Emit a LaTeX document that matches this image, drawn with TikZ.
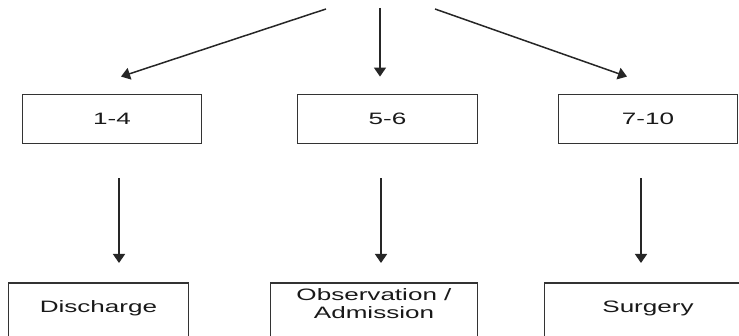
\documentclass[tikz,border=0pt]{standalone}
\usepackage{fontspec}
\setmainfont{Liberation Sans}
\usetikzlibrary{arrows.meta,positioning,calc}
\newcommand{\wide}[1]{\scalebox{1.58}[1]{#1}}
\tikzset
{
    rangebox/.style = {draw=black!80, line width=1.8pt, align=center, minimum width=179pt, minimum height=49pt, font=\fontsize{16.5}{18}\selectfont, text=black!90},
    outbox/.style = {rangebox, minimum height=62pt, anchor=north, text height=7pt, text depth=10pt},
    arr/.style = {draw=black!85, line width=1.5pt, -{Triangle[width=12pt,length=9pt]}}
}

\begin{document}
\begin{tikzpicture}[x=1pt,y=1pt]
	\clip (0,0) rectangle (739,336);
	% score ranges
	\node[rangebox] (r1) at (112,217) {\wide{1-4}};
	\node[rangebox, minimum width=180pt] (r2) at (387.5,217) {\wide{5-6}};
	\node[rangebox] (r3) at (648,217) {\wide{7-10}};
	% outcomes
	\node[outbox, minimum width=180pt] (o1) at (98.5,54) {\wide{Discharge}};
	\node[outbox, minimum width=207pt, text height=8pt, text depth=16pt] (o2) at (374,54)
		{\wide{\begin{tabular}{@{}c@{}}Observation /\\Admission\end{tabular}}};
	\node[outbox, minimum width=207pt] (o3) at (648,54) {\wide{Surgery}};
	% arrows from above
	\coordinate (s1) at (326,327);
	\coordinate (s2) at (380,328);
	\coordinate (s3) at (435,327);
	\draw[arr] (s1) -- ($(r1.north)+(9,17)$);
	\draw[arr] (s2) -- ($(r2.north)+(-7.5,17)$);
	\draw[arr] (s3) -- ($(r3.north)+(-21,17)$);
	% range to outcome
	\foreach \r/\o/\dx in {r1/o1/7, r2/o2/-6.5, r3/o3/-7}
		\draw[arr, shorten <=34pt, shorten >=19pt] ([xshift=\dx pt]\r.south) -- ([xshift=\dx pt]\r.south |- \o.north);
\end{tikzpicture}
\end{document}
